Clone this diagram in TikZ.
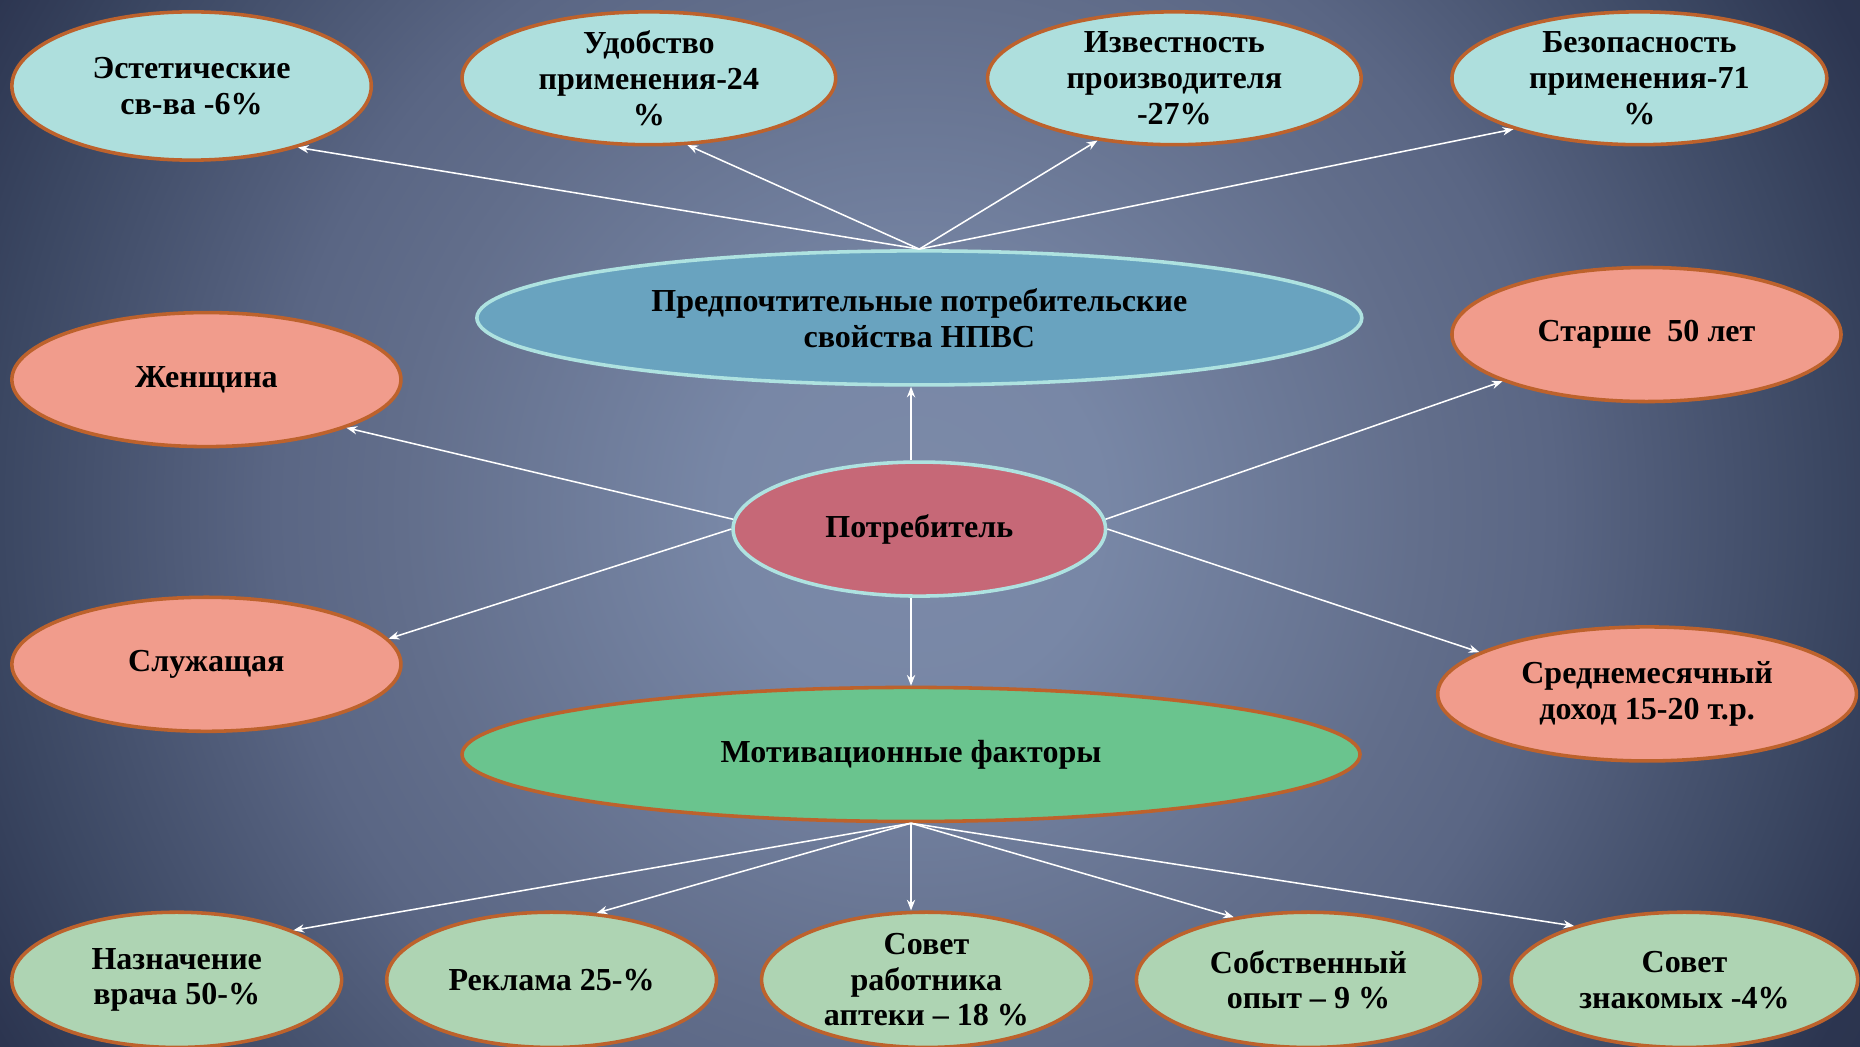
\documentclass[tikz,border=0pt]{standalone}
\usepackage{fontspec}
\setmainfont{Liberation Serif}
\usetikzlibrary{shapes.geometric,arrows.meta}

\definecolor{bgA}{HTML}{7C8AA8}
\definecolor{bgB}{HTML}{7887A6}
\definecolor{bgC}{HTML}{626E8B}
\definecolor{bgD}{HTML}{5A6684}
\definecolor{bgE}{HTML}{3B4762}
\definecolor{bgF}{HTML}{2C3550}
\definecolor{bgG}{HTML}{2B344E}
\definecolor{cTop}{HTML}{AEDFDD}
\definecolor{cBrd}{HTML}{BD622C}
\definecolor{cLight}{HTML}{AEE2E0}
\definecolor{cBlue}{HTML}{69A3BF}
\definecolor{cPink}{HTML}{F19C8C}
\definecolor{cPot}{HTML}{C66877}
\definecolor{cMot}{HTML}{6AC48E}
\definecolor{cBot}{HTML}{AED4B3}

\pgfdeclareradialshading{bgshade}{\pgfpoint{0bp}{0bp}}{color(0bp)=(bgA); color(4.3bp)=(bgB); color(11.6bp)=(bgC); color(14.5bp)=(bgD); color(20.7bp)=(bgE); color(23.9bp)=(bgF); color(25bp)=(bgG); color(50bp)=(bgG)}

\tikzset{
  base/.style={ellipse, line width=3pt, inner sep=-4pt, align=center,
    font=\bfseries\fontsize{27}{30}\selectfont, text=black},
  sz/.style 2 args={minimum width=#1, minimum height=#2},
  topn/.style={base, fill=cTop, draw=cBrd},
  bluen/.style={base, fill=cBlue, draw=cLight},
  pinkn/.style={base, fill=cPink, draw=cBrd},
  potn/.style={base, fill=cPot, draw=cLight},
  motn/.style={base, fill=cMot, draw=cBrd},
  botn/.style={base, fill=cBot, draw=cBrd},
  arr/.style={draw=white, line width=1.3pt, -{Stealth[length=9pt,width=7pt]}}
}

\begin{document}
\begin{tikzpicture}[x=1pt,y=-1pt]
\useasboundingbox (0,0) rectangle (1568,882);
\begin{scope}
\clip (0,0) rectangle (1568,882);
\fill[bgG] (0,0) rectangle (1568,882);
\shade[shading=bgshade] (770,430) circle (930);
\end{scope}

% top row
\node[topn, sz={303pt}{125pt}] (est) at (161.5,72.5) {Эстетические\\св-ва -6\%};
\node[topn, sz={315pt}{112pt}] (udo) at (547,66) {Удобство\\применения-24\\\%};
\node[topn, sz={315pt}{112pt}] (izv) at (990,66) {Известность\\производителя\\-27\%};
\node[topn, sz={316pt}{112pt}] (bez) at (1382,66) {Безопасность\\применения-71\\\%};

% centre
\node[bluen, sz={746pt}{113pt}] (pref) at (775,268) {Предпочтительные потребительские\\свойства НПВС};
\node[potn, sz={314pt}{113pt}] (pot) at (775,446) {Потребитель};
\node[motn, sz={757pt}{113pt}] (mot) at (768,636) {Мотивационные факторы};

% sides
\node[pinkn, sz={328pt}{113pt}] (zhen) at (174,320) {Женщина};
\node[pinkn, sz={328pt}{113pt}] (sluzh) at (174,560) {Служащая};
\node[pinkn, sz={328pt}{113pt}] (star) at (1388,282) {Старше\ \ 50 лет};
\node[pinkn, sz={353pt}{113pt}] (sred) at (1388.5,585) {Среднемесячный\\доход 15-20 т.р.};

% bottom row
\node[botn, sz={278pt}{114pt}] (naz) at (149,826) {Назначение\\врача 50-\%};
\node[botn, sz={278pt}{114pt}] (rek) at (465,826) {Реклама 25-\%};
\node[botn, sz={278pt}{114pt}] (sov1) at (781,826) {Совет\\работника\\аптеки – 18 \%};
\node[botn, sz={290pt}{114pt}] (sob) at (1103,826) {Собственный\\опыт – 9 \%};
\node[botn, sz={292pt}{114pt}] (sov2) at (1420,826) {Совет\\знакомых -4\%};

% connectors
\draw[arr] (pref.north) -- (est.-30);
\draw[arr] (pref.north) -- (udo.-60);
\draw[arr] (pref.north) -- (izv.-141);
\draw[arr] (pref.north) -- (bez.-158);

\draw[arr] (pot.north -| mot.north) -- (pref.south -| mot.north);
\draw[arr] (pot.177) -- (zhen.-19);
\draw[arr] (pot.180) -- (sluzh.8);
\draw[arr] (pot.3) -- (star.-162);
\draw[arr] (pot.0) -- (sred.166);
\draw[arr] (pot.south -| mot.north) -- (mot.north);

\draw[arr] (mot.south) -- (naz.23);
\draw[arr] (mot.south) -- (rek.56);
\draw[arr] (mot.south) -- (mot.south |- sov1.north);
\draw[arr] (mot.south) -- (sob.140);
\draw[arr] (mot.south) -- (sov2.154);
\end{tikzpicture}
\end{document}
